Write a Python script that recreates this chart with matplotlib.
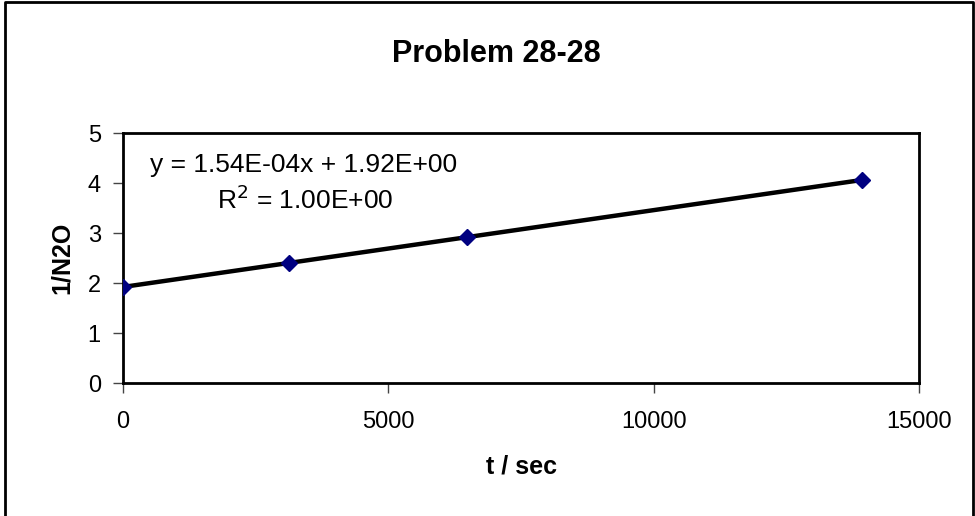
import numpy as np
import matplotlib
matplotlib.use("Agg")
import matplotlib.pyplot as plt
from matplotlib.lines import Line2D

plt.rcParams['font.family'] = ['Liberation Sans', 'DejaVu Sans']

# data
t_sec = [0, 3130, 6480, 13930]
inv_n2o = [1.92, 2.40, 2.92, 4.06]
title = "Problem 28-28"
x_label = "t / sec"
y_label = "1/N2O"
x_ticks = [0, 5000, 10000, 15000]
y_ticks = [0, 1, 2, 3, 4, 5]
eq_text = "y = 1.54E-04x + 1.92E+00"
r2_text = "R$^2$ = 1.00E+00"

W, H = 975, 516
fig = plt.figure(figsize=(W/100, H/100), dpi=100)
ax = fig.add_axes([123/W, 1-383/H, (919-123)/W, 250/H])

# trendline
slope, intercept = np.polyfit(t_sec, inv_n2o, 1)
xs = np.array([min(t_sec), max(t_sec)])
ax.plot(xs, slope*xs + intercept, color='black', lw=3.2, zorder=2, solid_capstyle='butt')
ax.plot(t_sec, inv_n2o, linestyle='none', marker='D', markersize=8,
        color='#000080', markeredgecolor='#000080', zorder=3)

ax.set_xlim(0, 15000)
ax.set_ylim(0, 5)
ax.set_xticks(x_ticks)
ax.set_yticks(y_ticks)
ax.tick_params(axis='both', direction='out', length=7, width=1, color='#444444',
               labelsize=17)
ax.tick_params(axis='y', pad=9)
ax.tick_params(axis='x', pad=13)
for s in ax.spines.values():
    s.set_linewidth(2)
    s.set_color('black')

ax.set_xlabel(x_label, fontsize=18, fontweight='bold', labelpad=16)
ax.set_ylabel(y_label, fontsize=18, fontweight='bold', labelpad=10)
fig.text(496/W, 1-54/H, title, ha='center', va='center', fontsize=22, fontweight='bold')

fig.text(304/W, 1-165/H, eq_text, fontsize=19, ha='center', va='center')
fig.text(305/W, 1-200/H, r2_text, fontsize=19, ha='center', va='center')

# outer chart border (no bottom edge visible)
fig.add_artist(Line2D([5/W, 5/W, 973/W, 973/W], [0, 1-2/H, 1-2/H, 0],
                      transform=fig.transFigure, color='black', lw=2))

fig.savefig("out.png", dpi=100)
